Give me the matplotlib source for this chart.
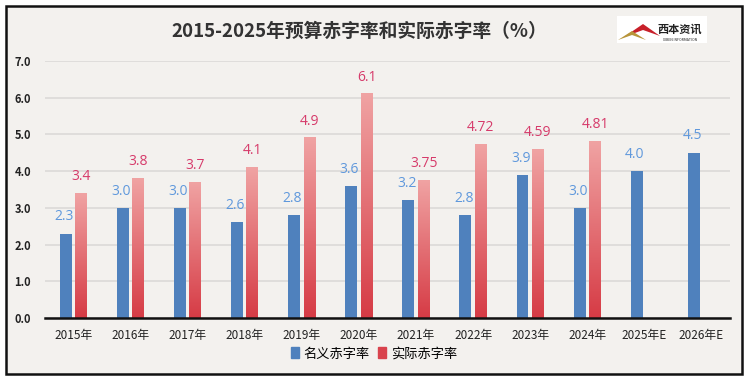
import matplotlib.pyplot as plt
import matplotlib.patches as mpatches
from matplotlib.colors import LinearSegmentedColormap
import numpy as np

plt.rcParams['font.family'] = ['Noto Sans CJK SC', 'DejaVu Sans']

# data
years = ['2015年', '2016年', '2017年', '2018年', '2019年', '2020年',
         '2021年', '2022年', '2023年', '2024年', '2025年E', '2026年E']
nominal = [2.3, 3.0, 3.0, 2.6, 2.8, 3.6, 3.2, 2.8, 3.9, 3.0, 4.0, 4.5]
actual = [3.4, 3.8, 3.7, 4.1, 4.9, 6.1, 3.75, 4.72, 4.59, 4.81]
actual_labels = ['3.4', '3.8', '3.7', '4.1', '4.9', '6.1', '3.75', '4.72', '4.59', '4.81']

bg = '#F3F1EE'
blue = '#4F81BD'
blue_txt = '#5F98DC'
red_txt = '#D63A6A'

fig = plt.figure(figsize=(7.48, 3.85), dpi=100)
fig.patch.set_facecolor('white')

# chart frame
frame = mpatches.Rectangle((6 / 748, 1 - 374 / 385), 736 / 748, 368 / 385,
                           transform=fig.transFigure, facecolor=bg,
                           edgecolor='#111111', linewidth=1.8, zorder=-10)
fig.patches.append(frame)

ax = fig.add_axes([0.06, 0.174, 0.916, 0.668])
ax.set_facecolor('none')

x = np.arange(len(years))
w = 0.21
off = 0.135

b1 = ax.bar(x - off, nominal, w, color=blue, zorder=3)
b2 = ax.bar(x[:len(actual)] + off, actual, w, color='none', zorder=3)

# gradient fill for the actual bars
grad = np.linspace(0, 1, 256).reshape(-1, 1)
cmap = LinearSegmentedColormap.from_list('r', ['#D63B45', '#F0A3A3'])
for r in b2:
    x0, y0 = r.get_x(), r.get_y()
    ax.imshow(grad, cmap=cmap, origin='lower', aspect='auto',
              extent=(x0, x0 + r.get_width(), y0, y0 + r.get_height()),
              zorder=3)

for r, v in zip(b1, nominal):
    ax.text(r.get_x() + r.get_width() / 2 - 0.03, v + 0.25, f'{v:.1f}',
            ha='center', va='bottom', color=blue_txt, fontsize=10,
            family=['Open Sans', 'DejaVu Sans'])
for r, lab in zip(b2, actual_labels):
    ax.text(r.get_x() + r.get_width() / 2, r.get_height() + 0.25, lab,
            ha='center', va='bottom', color=red_txt, fontsize=10,
            family=['Open Sans', 'DejaVu Sans'])

ax.set_xlim(-0.5, len(years) - 0.5)
ax.set_ylim(0, 7)
ax.set_yticks(np.arange(0, 7.1, 1.0))
ax.set_yticklabels([f'{v:.1f}' for v in np.arange(0, 7.1, 1.0)],
                   fontsize=8, fontweight='bold', color='#222222')
ax.set_xticks(x)
ax.set_xticklabels(years, fontsize=8.5, fontweight='medium', color='#222222')
ax.tick_params(axis='both', length=0, pad=8)
ax.tick_params(axis='y', pad=10)
ax.grid(axis='y', color='#DCDAD8', linewidth=1.2, zorder=1)
ax.set_axisbelow(True)
for s in ['left', 'right', 'top']:
    ax.spines[s].set_visible(False)
ax.spines['bottom'].set_color('#111111')
ax.spines['bottom'].set_linewidth(1.8)
ax.spines['bottom'].set_zorder(4)

fig.text(0.48, 0.918, '2015-2025年预算赤字率和实际赤字率（%）', ha='center',
         va='center', fontsize=13.5, fontweight='bold', color='#333333')

# logo
logo = mpatches.Rectangle((617 / 748, 1 - 43 / 385), 90 / 748, 27 / 385,
                          transform=fig.transFigure, facecolor='white',
                          edgecolor='none', zorder=2)
fig.patches.append(logo)
tri = mpatches.Polygon([(624 / 748, 1 - 37 / 385), (643 / 748, 1 - 24 / 385),
                        (660 / 748, 1 - 36 / 385), (643 / 748, 1 - 30 / 385)],
                       closed=True, transform=fig.transFigure,
                       facecolor='#C8202A', edgecolor='none', zorder=3)
fig.patches.append(tri)
tri2 = mpatches.Polygon([(618 / 748, 1 - 40 / 385), (632 / 748, 1 - 31 / 385),
                         (646 / 748, 1 - 40 / 385), (632 / 748, 1 - 35 / 385)],
                        closed=True, transform=fig.transFigure,
                        facecolor='#B8953A', edgecolor='none', zorder=3)
fig.patches.append(tri2)
fig.text(680 / 748, 1 - 29 / 385, '西本资讯', ha='center', va='center',
         fontsize=8, fontweight='bold', color='#222222', zorder=4)
fig.text(680 / 748, 1 - 40 / 385, 'XIBEN INFORMATION', ha='center', va='center',
         fontsize=2.5, color='#222222', zorder=4)

handles = [mpatches.Patch(color=blue, label='名义赤字率'),
           mpatches.Patch(color='#D9434D', label='实际赤字率')]
fig.legend(handles=handles, loc='center', bbox_to_anchor=(0.5, 1 - 354 / 385),
           ncol=2, frameon=False, fontsize=9.5, handlelength=0.6,
           handleheight=0.9, handletextpad=0.4, columnspacing=0.6)

fig.savefig('out.png', dpi=100, facecolor='white')
